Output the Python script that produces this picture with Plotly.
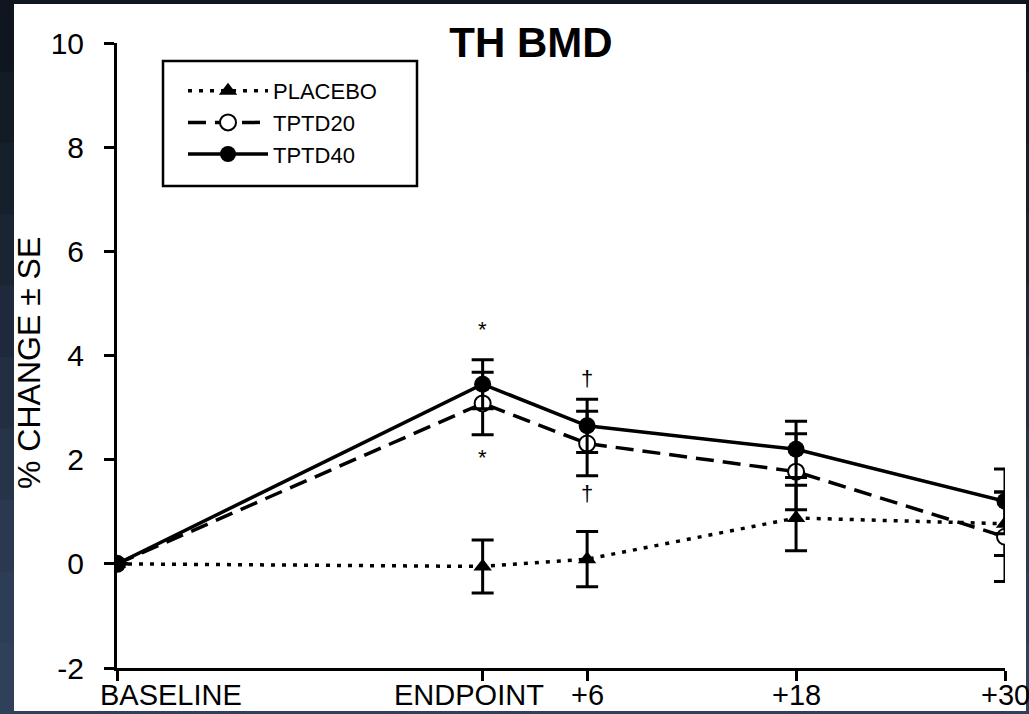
import plotly.graph_objects as go

# ---- data ----
months = [0, 21, 27, 39, 51]
x_labels = ["BASELINE", "ENDPOINT", "+6", "+18", "+30"]
placebo = [0, -0.05, 0.09, 0.88, 0.77]
placebo_se = [0, 0.51, 0.53, 0.63, 0.61]
tptd20 = [0, 3.08, 2.31, 1.77, 0.52]
tptd20_se = [0, 0.60, 0.62, 0.73, 0.86]
tptd40 = [0, 3.45, 2.65, 2.20, 1.20]
tptd40_se = [0, 0.47, 0.51, 0.54, 0.62]
y_ticks = [-2, 0, 2, 4, 6, 8, 10]
y_tick_labels = ["-2", "0", "2", "4", "6", "8", "10"]
# significance marks: (x, y, symbol)
sig_x = [21, 21, 27, 27]
sig_y = [4.5, 2.05, 3.55, 1.35]
sig_text = ["*", "*", "†", "†"]

W, H = 1029, 714
L, R, T, B = 117, 24, 43, 46
PW, PH = W - L - R, H - T - B

def px(xp):
    return (xp - L) / PW

def py(yp):
    return (H - B - yp) / PH

FONT = "Liberation Sans, Arial, sans-serif"

fig = go.Figure()

err_style = dict(type="data", thickness=3, width=11, color="black")

fig.add_trace(go.Scatter(
    x=months, y=placebo, name="PLACEBO", mode="lines+markers",
    line=dict(color="black", width=3.5, dash="4px,7px"),
    marker=dict(symbol="triangle-up", size=16, color="black"),
    error_y=dict(array=placebo_se, **err_style),
))
fig.add_trace(go.Scatter(
    x=months, y=tptd20, name="TPTD20", mode="lines+markers",
    line=dict(color="black", width=3.5, dash="18px,9px"),
    marker=dict(symbol="circle", size=16, color="white",
                line=dict(color="black", width=2)),
    error_y=dict(array=tptd20_se, **err_style),
))
fig.add_trace(go.Scatter(
    x=months, y=tptd40, name="TPTD40", mode="lines+markers",
    line=dict(color="black", width=3.5),
    marker=dict(symbol="circle", size=17, color="black"),
    error_y=dict(array=tptd40_se, **err_style),
))

# background bands (dark frame with gradient)
shapes = []
band_cols = ["#0f161f", "#121b26", "#16202d", "#1a2534", "#1e2a3b",
             "#222f42", "#263449", "#2a3950", "#2d3d55", "#2f4058"]
nb = len(band_cols)
for i, c in enumerate(band_cols):
    shapes.append(dict(type="rect", xref="paper", yref="paper", layer="below",
                       x0=px(0), x1=px(W), y0=py(H * (i + 1) / nb + 1),
                       y1=py(H * i / nb), fillcolor=c, line=dict(width=0)))
# white panel
shapes.append(dict(type="rect", xref="paper", yref="paper", layer="below",
                   x0=px(14), x1=px(1026), y0=py(711), y1=py(4),
                   fillcolor="white", line=dict(width=0)))
# legend frame
shapes.append(dict(type="rect", xref="paper", yref="paper", layer="above",
                   x0=px(163), x1=px(417), y0=py(186), y1=py(61),
                   line=dict(color="black", width=2.5)))

annotations = []
# x tick labels
label_shift = {"BASELINE": 54, "ENDPOINT": -14}
for xv, lab in zip(months, x_labels):
    annotations.append(dict(x=xv, y=py(695), xref="x", yref="paper",
                            text=lab, showarrow=False, xanchor="center",
                            yanchor="middle", xshift=label_shift.get(lab, 0),
                            font=dict(family=FONT, size=29, color="black")))
# y title
annotations.append(dict(x=px(29), y=py(363), xref="paper", yref="paper",
                        text="% CHANGE ± SE", textangle=-90, showarrow=False,
                        xanchor="center", yanchor="middle",
                        font=dict(family=FONT, size=32, color="black")))
for xv, yv, t in zip(sig_x, sig_y, sig_text):
    annotations.append(dict(x=xv, y=yv, xref="x", yref="y", text=t,
                            showarrow=False, xanchor="center", yanchor="middle",
                            font=dict(family=FONT, size=22, color="black")))

fig.update_layout(
    width=W, height=H,
    margin=dict(l=L, r=R, t=T, b=B, pad=0),
    paper_bgcolor="#1e2a3b",
    plot_bgcolor="rgba(0,0,0,0)",
    title=dict(text="<b>TH BMD</b>", x=px(531), xref="paper", xanchor="center",
               y=1 - 42 / H, yref="container", yanchor="middle",
               font=dict(family=FONT, size=42, color="black")),
    showlegend=True,
    legend=dict(x=px(183), y=py(70), xanchor="left", yanchor="top",
                bgcolor="rgba(0,0,0,0)", borderwidth=0, itemwidth=80,
                font=dict(family=FONT, size=22, color="black"),
                tracegroupgap=0),
    shapes=shapes,
    annotations=annotations,
)
fig.update_xaxes(range=[0, 51], tickvals=months, ticktext=[""] * len(months),
                 showgrid=False, zeroline=False, showline=True,
                 linecolor="black", linewidth=3, ticks="outside", ticklen=10,
                 tickwidth=3, tickcolor="black")
fig.update_yaxes(range=[-2, 10], tickvals=y_ticks, ticktext=y_tick_labels,
                 showgrid=False,
                 zeroline=False, showline=True, linecolor="black", linewidth=3,
                 ticks="outside", ticklen=10, tickwidth=3, tickcolor="black",
                 ticklabelstandoff=14,
                 tickfont=dict(family=FONT, size=30, color="black"))

fig.write_html("out.html")
